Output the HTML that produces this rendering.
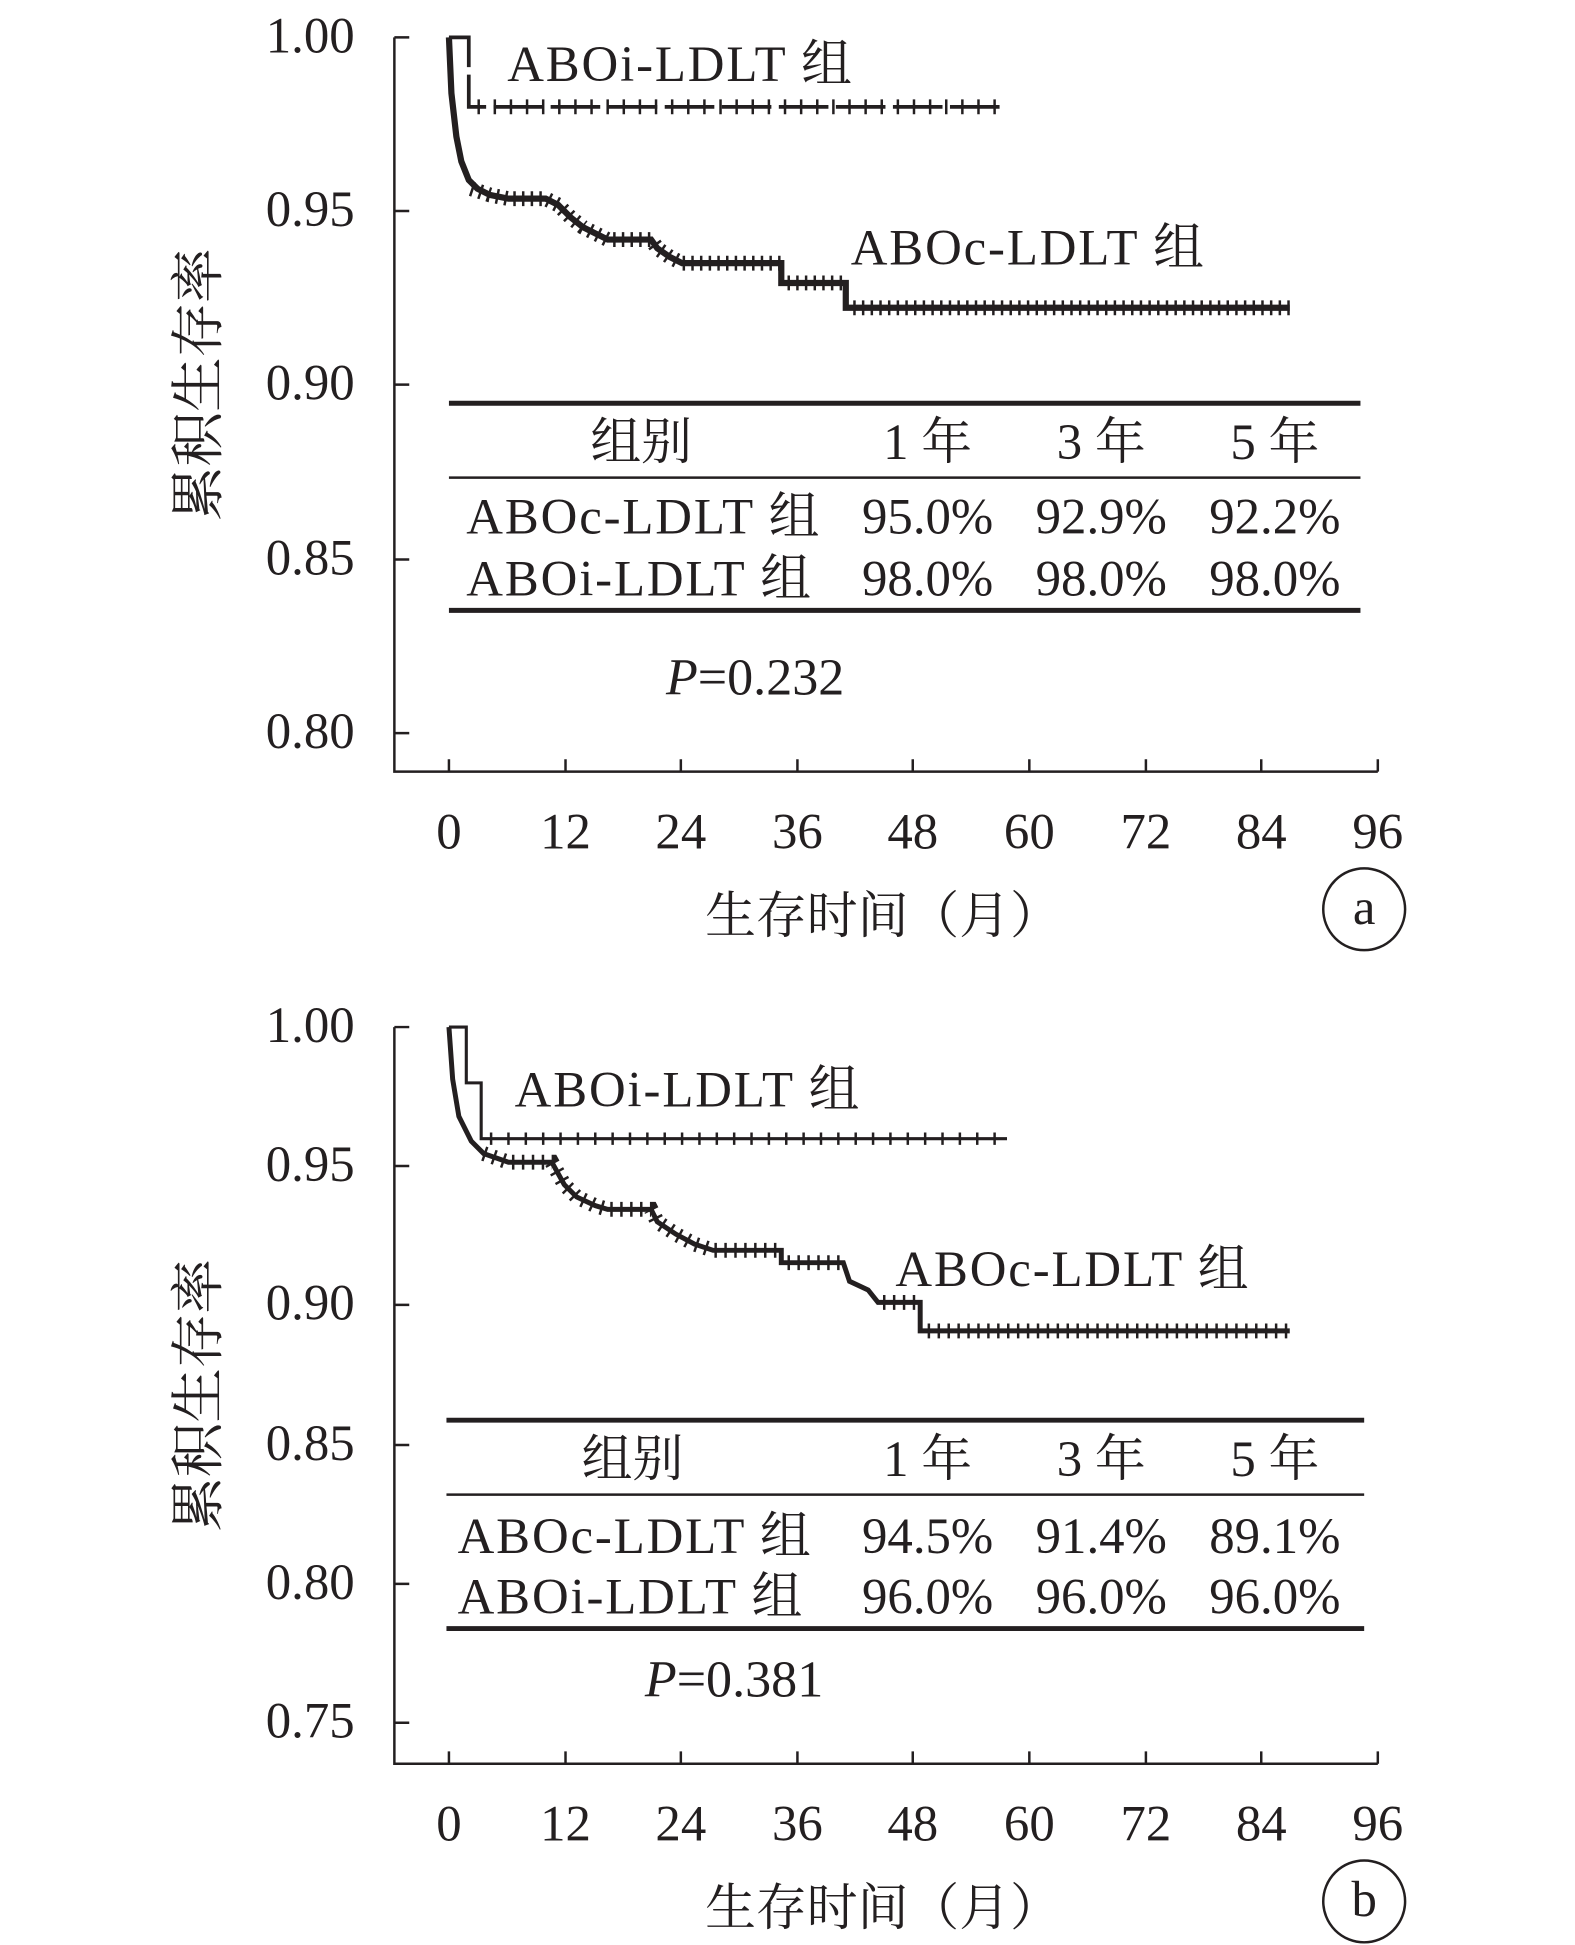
<!DOCTYPE html>
<html><head><meta charset="utf-8"><style>
html,body{margin:0;padding:0;background:#fff;}
svg{display:block;}
text{font-family:"Liberation Serif","Noto Serif CJK SC",serif;fill:#231f20;}
</style></head><body>
<svg width="1575" height="1945" viewBox="0 0 1270 1568" xmlns="http://www.w3.org/2000/svg">
<g stroke="#231f20" fill="none">
<path d="M318 30 V622 H1111" stroke-width="2"/>
<path d="M318 30 H330 M318 170 H330 M318 310 H330 M318 451 H330 M318 591 H330" stroke-width="2"/>
<path d="M362 622 V612 M456 622 V612 M549 622 V612 M643 622 V612 M736 622 V612 M830 622 V612 M924 622 V612 M1017 622 V612 M1111 622 V612" stroke-width="2"/>
<path d="M362 30 H378 V86 H812" stroke-width="3" stroke-dasharray="40,6"/>
<path d="M385 86 H812" stroke-width="12" stroke-dasharray="2,11"/>
<path d="M362 30 L364 75 L368 110 L372 130 L378 145 L385 152 L395 157 L410 160 L440 160 L450 165 L460 175 L470 183 L480 188 L490 193 L525 193 L530 200 L540 207 L550 212 L630 212 V228 H682 V248 H1040" stroke-width="5"/>
<path d="M380 152 L395 157 L410 160 L440 160 L450 165 L460 175 L470 183 L480 188 L490 193 L525 193 L530 200 L540 207 L550 212 L630 212 M635 228 H682 M688 248 H1040" stroke-width="12" stroke-dasharray="2,5"/>
<path d="M362 325 H1097 M362 492 H1097" stroke-width="4"/>
<path d="M362 385 H1097" stroke-width="2"/>
<path d="M318 828 V1422 H1111" stroke-width="2"/>
<path d="M318 828 H330 M318 940 H330 M318 1052 H330 M318 1165 H330 M318 1277 H330 M318 1389 H330" stroke-width="2"/>
<path d="M362 1422 V1412 M456 1422 V1412 M549 1422 V1412 M643 1422 V1412 M736 1422 V1412 M830 1422 V1412 M924 1422 V1412 M1017 1422 V1412 M1111 1422 V1412" stroke-width="2"/>
<path d="M362 828 H376 V873 H388 V918 H812" stroke-width="2.5"/>
<path d="M395 918 H812" stroke-width="10" stroke-dasharray="2,12"/>
<path d="M362 828 L365 870 L370 900 L380 920 L390 930 L410 937 L445 937 L455 955 L465 965 L480 972 L490 975 L525 975 L530 985 L545 995 L560 1003 L575 1008 L630 1008 V1018 H680 L685 1033 L700 1040 L708 1050 H742 V1073 H1040" stroke-width="4"/>
<path d="M390 930 L410 937 L445 937 L455 955 L465 965 L480 972 L490 975 L525 975 L530 985 L545 995 L560 1003 L575 1008 L630 1008 M635 1018 H680 M712 1050 H742 M748 1073 H1040" stroke-width="12" stroke-dasharray="2,6"/>
<path d="M360 1145 H1100 M360 1313 H1100" stroke-width="4"/>
<path d="M360 1205 H1100" stroke-width="2"/>
<circle cx="1100" cy="733" r="33" stroke-width="2"/>
<circle cx="1100" cy="1533" r="33" stroke-width="2"/>
</g>
<g font-size="41">
<g text-anchor="end">
<text x="286" y="42">1.00</text><text x="286" y="182">0.95</text><text x="286" y="322">0.90</text><text x="286" y="463">0.85</text><text x="286" y="603">0.80</text>
<text x="286" y="840">1.00</text><text x="286" y="952">0.95</text><text x="286" y="1064">0.90</text><text x="286" y="1177">0.85</text><text x="286" y="1289">0.80</text><text x="286" y="1401">0.75</text>
</g>
<g text-anchor="middle">
<text x="362" y="684">0</text><text x="456" y="684">12</text><text x="549" y="684">24</text><text x="643" y="684">36</text><text x="736" y="684">48</text><text x="830" y="684">60</text><text x="924" y="684">72</text><text x="1017" y="684">84</text><text x="1111" y="684">96</text>
<text x="362" y="1484">0</text><text x="456" y="1484">12</text><text x="549" y="1484">24</text><text x="643" y="1484">36</text><text x="736" y="1484">48</text><text x="830" y="1484">60</text><text x="924" y="1484">72</text><text x="1017" y="1484">84</text><text x="1111" y="1484">96</text>
<text x="712" y="752">生存时间（月）</text>
<text x="712" y="1552">生存时间（月）</text>
<text x="1100" y="745">a</text>
<text x="1100" y="1545">b</text>
<text font-size="44" transform="translate(175,310) rotate(-90)">累积生存率</text>
<text font-size="44" transform="translate(175,1125) rotate(-90)">累积生存率</text>
<text x="517" y="370">组别</text><text x="748" y="370">1 年</text><text x="888" y="370">3 年</text><text x="1028" y="370">5 年</text>
<text x="748" y="430">95.0%</text><text x="888" y="430">92.9%</text><text x="1028" y="430">92.2%</text>
<text x="748" y="480">98.0%</text><text x="888" y="480">98.0%</text><text x="1028" y="480">98.0%</text>
<text x="510" y="1190">组别</text><text x="748" y="1190">1 年</text><text x="888" y="1190">3 年</text><text x="1028" y="1190">5 年</text>
<text x="748" y="1252">94.5%</text><text x="888" y="1252">91.4%</text><text x="1028" y="1252">89.1%</text>
<text x="748" y="1301">96.0%</text><text x="888" y="1301">96.0%</text><text x="1028" y="1301">96.0%</text>
</g>
<g letter-spacing="1.5">
<text x="376" y="430">ABOc-LDLT 组</text>
<text x="376" y="480">ABOi-LDLT 组</text>
<text x="369" y="1252">ABOc-LDLT 组</text>
<text x="369" y="1301">ABOi-LDLT 组</text>
<text x="409" y="65">ABOi-LDLT 组</text>
<text x="686" y="213">ABOc-LDLT 组</text>
<text x="415" y="892">ABOi-LDLT 组</text>
<text x="722" y="1037">ABOc-LDLT 组</text>
</g>
<text x="537" y="560" font-size="42"><tspan font-style="italic">P</tspan>=0.232</text>
<text x="520" y="1368" font-size="42"><tspan font-style="italic">P</tspan>=0.381</text>
</g>
</svg>
</body></html>
